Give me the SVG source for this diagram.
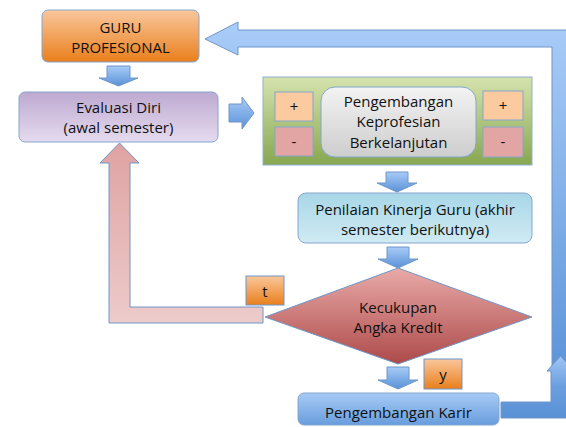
<svg xmlns="http://www.w3.org/2000/svg" width="566" height="427" viewBox="0 0 566 427">
<defs>
<linearGradient id="gOrange" x1="0" y1="0" x2="0" y2="1"><stop offset="0" stop-color="#fac79c"/><stop offset="1" stop-color="#e97f1c"/></linearGradient>
<linearGradient id="gPurple" x1="0" y1="0" x2="0" y2="1"><stop offset="0" stop-color="#bea9d1"/><stop offset="1" stop-color="#e5dbee"/></linearGradient>
<linearGradient id="gGreen" x1="0" y1="0" x2="0" y2="1"><stop offset="0" stop-color="#d5e3ad"/><stop offset="1" stop-color="#87a74f"/></linearGradient>
<linearGradient id="gGray" x1="0" y1="0" x2="0" y2="1"><stop offset="0" stop-color="#f3f3f3"/><stop offset="1" stop-color="#cdcdcd"/></linearGradient>
<linearGradient id="gCyan" x1="0" y1="0" x2="0" y2="1"><stop offset="0" stop-color="#a8d6e8"/><stop offset="1" stop-color="#d0ebf3"/></linearGradient>
<linearGradient id="gRed" x1="0" y1="0" x2="0" y2="1"><stop offset="0" stop-color="#e8aaa8"/><stop offset="1" stop-color="#ad4a4a"/></linearGradient>
<linearGradient id="gBlue" x1="0" y1="0" x2="0" y2="1"><stop offset="0" stop-color="#a6cbf6"/><stop offset="1" stop-color="#689ddc"/></linearGradient>
<linearGradient id="gArrow" x1="0" y1="0" x2="0" y2="1"><stop offset="0" stop-color="#a9cbf7"/><stop offset="1" stop-color="#5a92d7"/></linearGradient>
<linearGradient id="gPink" x1="0" y1="0" x2="0" y2="1"><stop offset="0" stop-color="#dfa2a2"/><stop offset="1" stop-color="#edcbcb"/></linearGradient>
<linearGradient id="gBig" gradientUnits="userSpaceOnUse" x1="0" y1="30" x2="0" y2="400"><stop offset="0" stop-color="#a8cbf8"/><stop offset="1" stop-color="#5690d6"/></linearGradient>
<linearGradient id="gBot" gradientUnits="userSpaceOnUse" x1="0" y1="356" x2="0" y2="418"><stop offset="0" stop-color="#a0c5f4"/><stop offset="0.5" stop-color="#6a9ede"/><stop offset="1" stop-color="#5a91d6"/></linearGradient>
</defs>
<style>
.box{stroke:#85a6ce;stroke-width:1}
.arr{stroke:#6f96c8;stroke-width:1}
text{font-family:"Open Sans","Liberation Sans",sans-serif;font-size:15px;fill:#111;text-anchor:middle}
</style>
<g id="connectors">
<path class="arr" fill="url(#gBig)" d="M205,39 L238,22 L238,30 L570,30 L570,372 L552,372 L552,47 L238,47 L238,55 Z"/>
<path class="arr" fill="url(#gBot)" d="M501,402 L551,402 L551,371 L547,371 L560.5,356 L574,371 L570,371 L570,418 L501,418 Z"/>
<path class="arr" fill="url(#gPink)" d="M263,307 L130,307 L130,163 L139,163 L119.5,143 L100,163 L109,163 L109,323 L263,323 Z"/>
<path class="arr" fill="url(#gArrow)" d="M107,66 L130,66 L130,78 L138,78 L118.5,86 L99,78 L107,78 Z"/>
<path class="arr" fill="url(#gArrow)" d="M229,104 L242,104 L242,97 L254,113 L242,129 L242,122 L229,122 Z"/>
<path class="arr" fill="url(#gArrow)" d="M386,172 L408,172 L408,183 L417,183 L397,192 L377,183 L386,183 Z"/>
<path class="arr" fill="url(#gArrow)" d="M387,247 L409,247 L409,259 L418,259 L398,268 L378,259 L387,259 Z"/>
<path class="arr" fill="url(#gArrow)" d="M387,367 L409,367 L409,380 L418,380 L398,389 L378,380 L387,380 Z"/>
</g>
<g id="guru">
<rect class="box" x="42" y="10" width="157" height="52" rx="6" fill="url(#gOrange)"/>
<text x="120.5" y="33">GURU</text>
<text x="120.5" y="53">PROFESIONAL</text>
</g>
<g id="evaluasi">
<rect class="box" x="19" y="92" width="199" height="50" rx="6" fill="url(#gPurple)"/>
<text x="118.5" y="113">Evaluasi Diri</text>
<text x="118.5" y="133">(awal semester)</text>
</g>
<g id="pkb">
<rect x="263" y="77" width="269" height="88" fill="url(#gGreen)" stroke="#8fb0d6" stroke-width="1"/>
<rect class="box" x="275" y="92" width="38" height="29" fill="#fbca9f"/>
<text x="294" y="112">+</text>
<rect class="box" x="275" y="127" width="38" height="29" fill="#e3a5a4"/>
<text x="294" y="147">-</text>
<rect class="box" x="321" y="87" width="155" height="70" rx="14" fill="url(#gGray)"/>
<text x="398.5" y="107">Pengembangan</text>
<text x="398.5" y="127">Keprofesian</text>
<text x="398.5" y="148">Berkelanjutan</text>
<rect class="box" x="483" y="91" width="40" height="29" fill="#fbca9f"/>
<text x="503" y="111">+</text>
<rect class="box" x="483" y="127" width="40" height="30" fill="#e3a5a4"/>
<text x="503" y="147">-</text>
</g>
<g id="penilaian">
<rect class="box" x="298" y="193" width="234" height="50" rx="8" fill="url(#gCyan)"/>
<text x="415" y="215">Penilaian Kinerja Guru (akhir</text>
<text x="415" y="235">semester berikutnya)</text>
</g>
<g id="kecukupan">
<path class="arr" fill="url(#gRed)" d="M398,268 L532,317 L398,364 L265,317 Z"/>
<text x="398" y="313">Kecukupan</text>
<text x="398" y="333">Angka Kredit</text>
</g>
<g id="label-t">
<rect class="arr" x="246" y="276" width="38" height="29" fill="url(#gOrange)"/>
<text x="265" y="297">t</text>
</g>
<g id="label-y">
<rect class="arr" x="424" y="359" width="38" height="30" fill="url(#gOrange)"/>
<text x="443" y="380">y</text>
</g>
<g id="karir">
<rect class="box" x="298" y="393" width="201" height="32" rx="6" fill="url(#gBlue)"/>
<text x="398.5" y="418">Pengembangan Karir</text>
</g>
</svg>
